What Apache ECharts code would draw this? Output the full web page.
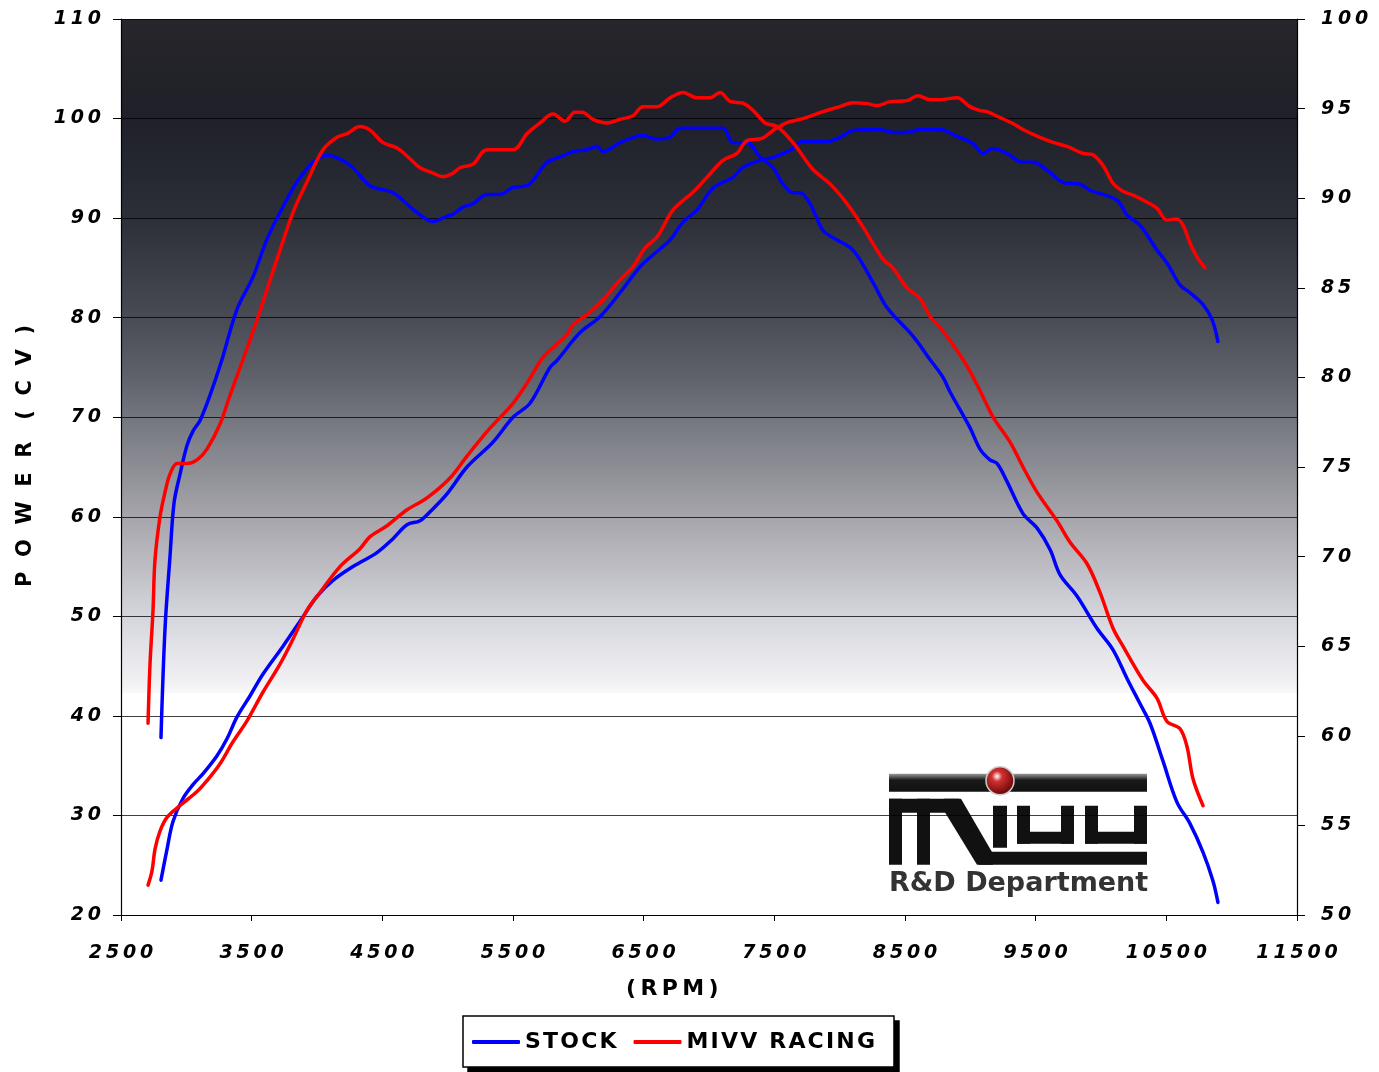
<!DOCTYPE html>
<html>
<head>
<meta charset="utf-8">
<script src="https://cdn.jsdelivr.net/npm/echarts@6/dist/echarts.min.js"></script>
<style>
html,body{margin:0;padding:0;background:#fff;}
#chart{width:1379px;height:1072px;}
</style>
</head>
<body>
<div id="chart"></div>
<script>
// ---- DATA ----
var rpmTicks = [2500, 3500, 4500, 5500, 6500, 7500, 8500, 9500, 10500, 11500];
var powerTicks = [20, 30, 40, 50, 60, 70, 80, 90, 100, 110];
var torqueTicks = [50, 55, 60, 65, 70, 75, 80, 85, 90, 95, 100];
var seriesNames = ['STOCK', 'MIVV RACING'];

// STOCK torque (right axis)
var stockTorqueRpm = [2806,2837,2875,2906,2952,3005,3051,3105,3181,3273,3388,3510,3617,3717,3847,3969,4077,4199,4276,4405,4582,4765,4888,4995,5041,5117,5194,5301,5400,5500,5607,5760,5860,5959,6066,6143,6189,6319,6495,6602,6702,6778,6877,7107,7184,7291,7390,7490,7566,7643,7696,7773,7872,7949,8102,8255,8362,8561,8691,8791,8844,8997,9074,9150,9204,9280,9403,9510,9610,9686,9816,9969,10092,10199,10298,10375,10474,10581,10681,10781,10857,10895];
var stockTorque = [59.9,66.0,70.0,73.0,74.6,76.2,77.0,77.6,79.0,81.0,83.8,85.6,87.7,89.2,90.9,92.0,92.4,92.1,91.7,90.7,90.3,89.2,88.7,89.0,89.1,89.5,89.7,90.2,90.2,90.6,90.7,92.0,92.3,92.6,92.7,92.9,92.6,93.1,93.5,93.3,93.4,93.9,93.9,93.9,93.1,93.1,92.3,91.7,90.8,90.3,90.3,89.7,88.2,87.8,87.1,85.3,83.9,82.3,81.0,80.0,79.2,77.2,76.0,75.4,75.2,74.2,72.4,71.6,70.4,69.0,67.8,66.0,64.8,63.2,61.8,60.7,58.6,56.3,55.1,53.5,51.9,50.7];

// MIVV RACING torque (right axis)
var mivvTorqueRpm = [2707,2722,2745,2760,2798,2837,2875,2929,3005,3082,3158,3258,3334,3434,3541,3694,3816,3923,4046,4153,4230,4329,4406,4505,4612,4712,4788,4888,4964,5041,5094,5194,5301,5500,5607,5707,5806,5898,5974,6028,6112,6219,6319,6418,6495,6602,6702,6801,6908,7008,7084,7161,7260,7337,7429,7520,7643,7796,7926,8056,8178,8331,8408,8515,8615,8691,8768,8944,9051,9173,9303,9403,9510,9663,9763,9893,9992,10092,10168,10321,10428,10505,10604,10658,10704,10781];
var mivvTorque = [60.7,64.0,67.0,69.8,72.2,73.6,74.6,75.2,75.2,75.4,76.0,77.4,79.0,81.0,83.2,86.6,89.2,90.9,92.7,93.4,93.6,94.0,93.8,93.1,92.8,92.2,91.7,91.4,91.2,91.4,91.7,91.9,92.7,92.7,93.6,94.2,94.7,94.3,94.8,94.8,94.4,94.2,94.4,94.6,95.1,95.1,95.6,95.9,95.6,95.6,95.9,95.4,95.3,94.9,94.2,94.0,93.1,91.6,90.8,89.7,88.4,86.6,86.1,85.0,84.4,83.4,82.8,81.0,79.6,77.8,76.4,75.0,73.6,72.0,70.8,69.6,68.0,66.0,65.0,63.1,62.1,60.8,60.4,59.4,57.6,56.1];

// STOCK power (left axis)
var stockPowerRpm = [2806,2852,2898,2974,3051,3128,3235,3311,3388,3487,3587,3740,3870,4000,4122,4276,4459,4582,4689,4788,4865,4995,5148,5347,5500,5630,5783,5837,6013,6166,6319,6472,6571,6702,6801,6908,7030,7184,7260,7390,7490,7620,7719,7903,8002,8102,8309,8408,8515,8615,8768,8898,9020,9097,9173,9280,9403,9480,9587,9709,9839,9916,10122,10199,10298,10428,10505,10604,10681,10781,10850,10895];
var stockPower = [23.5,26.6,29.4,31.7,33.1,34.2,36.0,37.7,39.9,42.0,44.2,47.0,49.5,52.0,53.6,55.0,56.4,57.8,59.2,59.6,60.5,62.3,65.0,67.5,70.0,71.4,75.0,75.7,78.5,80.1,82.5,85.1,86.3,87.8,89.6,90.8,93.0,94.1,95.1,95.8,96.1,96.8,97.7,97.7,98.1,98.8,98.9,98.6,98.6,98.9,98.9,98.2,97.5,96.5,97.0,96.5,95.6,95.6,94.8,93.6,93.4,92.8,91.8,90.3,89.3,86.8,85.5,83.3,82.5,81.3,79.8,77.6];

// MIVV RACING power (left axis)
var mivvPowerRpm = [2707,2737,2760,2798,2852,2952,3082,3158,3258,3357,3464,3587,3717,3816,3923,4023,4176,4329,4406,4536,4689,4842,5018,5148,5324,5500,5630,5730,5913,5959,6066,6189,6319,6418,6510,6602,6724,6877,6985,7107,7214,7291,7406,7490,7597,7719,7872,8002,8102,8209,8286,8385,8515,8599,8691,8768,8898,8997,9074,9127,9227,9326,9403,9533,9633,9740,9862,9931,10015,10092,10168,10245,10352,10428,10505,10581,10627,10681,10734,10796];
var mivvPower = [23.0,24.4,26.6,28.4,29.8,31.0,32.4,33.5,35.2,37.4,39.5,42.4,45.2,47.7,50.6,52.4,55.0,56.8,58.0,59.1,60.7,61.9,63.9,66.1,68.9,71.4,73.9,76.0,78.3,79.3,80.3,81.8,83.8,85.1,87.0,88.1,90.8,92.6,94.1,95.8,96.5,97.8,98.0,98.8,99.6,100.0,100.7,101.2,101.6,101.5,101.3,101.7,101.8,102.3,101.9,101.9,102.1,101.2,100.8,100.7,100.1,99.5,98.9,98.1,97.6,97.2,96.5,96.4,95.3,93.5,92.7,92.3,91.6,91.0,89.8,89.9,89.3,87.5,86.1,85.0];

function zip(a, b) { return a.map(function (v, i) { return [v, b[i]]; }); }
function spaced(s, sp) { return String(s).split('').join(sp); }

var FONT = '"DejaVu Sans", Verdana, sans-serif';
var BLUE = '#0000ff', RED = '#ff0000';

var chart = echarts.init(document.getElementById('chart'), null, { renderer: 'canvas' });

var labelStyle = {
  fontFamily: FONT, fontStyle: 'italic', fontWeight: 'bold', fontSize: 19, color: '#000'
};

function lineSeries(name, color, data, yIdx, z) {
  return {
    type: 'line', name: name, data: data, yAxisIndex: yIdx,
    showSymbol: false, symbol: 'none', smooth: 0.35, z: z,
    lineStyle: { color: color, width: 3.5, cap: 'round', join: 'round' },
    itemStyle: { color: color }
  };
}

chart.setOption({
  backgroundColor: '#ffffff',
  animation: false,
  grid: {
    left: 121, right: 82, top: 19, bottom: 157, show: true, borderWidth: 0,
    backgroundColor: {
      type: 'linear', x: 0, y: 0, x2: 0, y2: 1,
      colorStops: [
        { offset: 0.00, color: '#27262b' },
        { offset: 0.11, color: '#1f2029' },
        { offset: 0.222, color: '#2c2f38' },
        { offset: 0.333, color: '#484a54' },
        { offset: 0.40, color: '#60626b' },
        { offset: 0.444, color: '#74767e' },
        { offset: 0.556, color: '#a6a5ab' },
        { offset: 0.667, color: '#d5d5dd' },
        { offset: 0.74, color: '#f1f1f4' },
        { offset: 0.752, color: '#f8f8fa' },
        { offset: 0.753, color: '#ffffff' },
        { offset: 1.00, color: '#ffffff' }
      ]
    }
  },
  legend: {
    data: seriesNames,
    left: 463, top: 1016,
    padding: [15, 19, 14, 9],
    itemGap: 17,
    itemWidth: 48, itemHeight: 4,
    icon: 'roundRect',
    backgroundColor: '#ffffff',
    borderColor: '#000', borderWidth: 1.5,
    textStyle: { fontFamily: FONT, fontWeight: 'bold', fontSize: 22, color: '#000' },
    formatter: function (n) { return spaced(n, '\u200A'); }
  },
  xAxis: {
    type: 'value', min: rpmTicks[0], max: rpmTicks[rpmTicks.length - 1], interval: 1000,
    axisLine: { show: true, onZero: false, lineStyle: { color: '#000', width: 1.2 } },
    axisTick: { show: true, length: 6, inside: false, lineStyle: { color: '#000' } },
    splitLine: { show: false },
    axisLabel: Object.assign({ margin: 29, formatter: function (v) { return spaced(v, '\u2009'); } }, labelStyle)
  },
  yAxis: [
    {
      type: 'value', min: powerTicks[0], max: powerTicks[powerTicks.length - 1], interval: 10,
      position: 'left',
      axisLine: { show: true, lineStyle: { color: '#000', width: 1.2 } },
      axisTick: { show: true, length: 8, lineStyle: { color: '#000' } },
      splitLine: { show: true, lineStyle: { color: 'rgba(0,0,0,0.75)', width: 1 } },
      axisLabel: Object.assign({ margin: 20, formatter: function (v) { return spaced(v, '\u2009'); } }, labelStyle)
    },
    {
      type: 'value', min: torqueTicks[0], max: torqueTicks[torqueTicks.length - 1], interval: 5,
      position: 'right',
      axisLine: { show: true, lineStyle: { color: '#000', width: 1.2 } },
      axisTick: { show: true, length: 8, lineStyle: { color: '#000' } },
      splitLine: { show: false },
      axisLabel: Object.assign({ margin: 24, formatter: function (v) { return spaced(v, '\u2009'); } }, labelStyle)
    }
  ],
  series: [
    lineSeries(seriesNames[0], BLUE, zip(stockTorqueRpm, stockTorque), 1, 3),
    lineSeries(seriesNames[0], BLUE, zip(stockPowerRpm, stockPower), 0, 3),
    lineSeries(seriesNames[1], RED, zip(mivvTorqueRpm, mivvTorque), 1, 4),
    lineSeries(seriesNames[1], RED, zip(mivvPowerRpm, mivvPower), 0, 4)
  ],
  graphic: [
    {
      type: 'text', left: 626, top: 978, z: 10,
      style: { text: spaced('(RPM)', '\u2009'), fontFamily: FONT, fontWeight: 'bold', fontSize: 22, fill: '#000' }
    },
    {
      type: 'text', x: 26, y: 456, rotation: Math.PI / 2, z: 10,
      style: {
        text: spaced('POWER', '  ') + '   ' + spaced('(CV)', '  '),
        fontFamily: FONT, fontWeight: 'bold', fontSize: 21, fill: '#000',
        align: 'center', verticalAlign: 'middle'
      }
    },
    // logo (decoration)
    {
      type: 'group', left: 889, top: 766, z: 5,
      children: [
        { type: 'rect', shape: { x: 0, y: 8, width: 258, height: 18 },
          style: { fill: { type: 'linear', x: 0, y: 0, x2: 0, y2: 1, colorStops: [
            { offset: 0, color: '#9a9a9a' }, { offset: 0.35, color: '#1a1a1a' }, { offset: 1, color: '#111' }] } } },
        { type: 'rect', shape: { x: 0, y: 33, width: 70, height: 14 }, style: { fill: '#111' } },
        { type: 'rect', shape: { x: 0, y: 33, width: 13, height: 66 }, style: { fill: '#111' } },
        { type: 'rect', shape: { x: 28, y: 33, width: 13, height: 66 }, style: { fill: '#111' } },
        { type: 'polygon', shape: { points: [[55, 33], [72, 33], [104, 88], [104, 99], [88, 99], [55, 45]] }, style: { fill: '#111' } },
        { type: 'rect', shape: { x: 90, y: 86, width: 168, height: 13 }, style: { fill: '#111' } },
        { type: 'rect', shape: { x: 104, y: 40, width: 14, height: 42 }, style: { fill: '#111' } },
        { type: 'rect', shape: { x: 128, y: 40, width: 13, height: 38 }, style: { fill: '#111' } },
        { type: 'rect', shape: { x: 172, y: 40, width: 13, height: 38 }, style: { fill: '#111' } },
        { type: 'rect', shape: { x: 128, y: 66, width: 57, height: 12 }, style: { fill: '#111' } },
        { type: 'rect', shape: { x: 196, y: 40, width: 13, height: 38 }, style: { fill: '#111' } },
        { type: 'rect', shape: { x: 245, y: 40, width: 13, height: 38 }, style: { fill: '#111' } },
        { type: 'rect', shape: { x: 196, y: 66, width: 62, height: 12 }, style: { fill: '#111' } },
        { type: 'circle', shape: { cx: 111, cy: 15, r: 14 },
          style: { fill: { type: 'radial', x: 0.4, y: 0.35, r: 0.7, colorStops: [
            { offset: 0, color: '#ffffff' }, { offset: 0.25, color: '#d23030' }, { offset: 1, color: '#5a0000' }] },
            stroke: '#ccc', lineWidth: 1.5 } },
        { type: 'text', x: 0, y: 105,
          style: { text: 'R&D Department', fontFamily: FONT, fontWeight: 'bold', fontSize: 27, fill: '#333' } }
      ]
    }
  ]
});

// legend drop shadow, sized from the legend's rendered box
(function () {
  var legendView = chart.getViewOfComponentModel(chart.getModel().getComponent('legend'));
  var r = legendView.group.getBoundingRect();
  var p = legendView.group;
  var x = p.x + r.x, y = p.y + r.y;
  chart.setOption({
    graphic: [{
      type: 'rect', id: 'legendShadow', z: -1, silent: true,
      shape: { x: x + 5, y: y + 5, width: r.width, height: r.height },
      style: { fill: '#000' }
    }]
  });
})();
</script>
</body>
</html>
